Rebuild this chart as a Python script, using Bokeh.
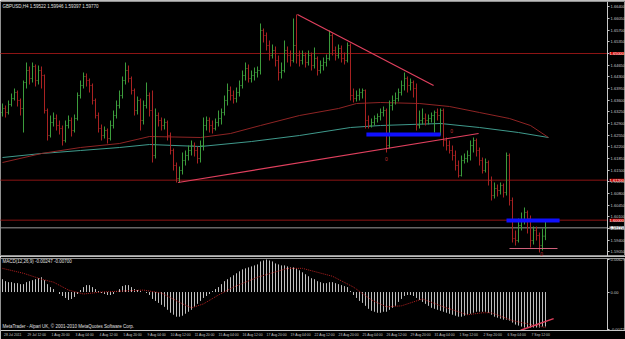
from bokeh.plotting import figure
from bokeh.models import Range1d, LinearAxis, FixedTicker, PrintfTickFormatter, Label, ColumnDataSource
from bokeh.layouts import column
from bokeh.embed import file_html
from bokeh.resources import INLINE
from bokeh.core.properties import value

# ---------------- data (GBPUSD H4) ----------------
symbol_title = "GBPUSD,H4  1.59522 1.59946 1.59397 1.59770"
macd_title = "MACD(12,26,9) -0.00247 -0.00700"
footer = "MetaTrader - Alpari UK, \u00a9 2001-2010 MetaQuotes Software Corp."

first_open_pts = 16323
close_pts = [16335, 16323, 16347, 16365, 16383, 16359, 16335, 16413, 16449, 16425,
             16461, 16419, 16449, 16434, 16329, 16254, 16293, 16305, 16284, 16275,
             16239, 16284, 16299, 16269, 16305, 16374, 16404, 16431, 16419, 16404,
             16359, 16314, 16275, 16254, 16269, 16245, 16284, 16314, 16344, 16374,
             16419, 16449, 16425, 16389, 16329, 16359, 16299, 16344, 16374, 16329,
             16194, 16314, 16299, 16284, 16293, 16254, 16209, 16164, 16125, 16149,
             16179, 16194, 16209, 16224, 16209, 16185, 16224, 16284, 16299, 16284,
             16275, 16293, 16305, 16323, 16359, 16389, 16374, 16365, 16383, 16404,
             16434, 16455, 16425, 16434, 16443, 16449, 16569, 16554, 16524, 16494,
             16509, 16479, 16443, 16449, 16509, 16494, 16479, 16524, 16494, 16479,
             16494, 16473, 16494, 16464, 16485, 16449, 16464, 16473, 16485, 16554,
             16509, 16494, 16515, 16485, 16479, 16524, 16374, 16365, 16374, 16383,
             16389, 16299, 16284, 16293, 16305, 16311, 16323, 16329, 16224, 16344,
             16359, 16365, 16383, 16404, 16425, 16404, 16413, 16395, 16284, 16299,
             16305, 16299, 16305, 16314, 16323, 16314, 16329, 16239, 16224, 16209,
             16194, 16164, 16134, 16179, 16185, 16194, 16224, 16239, 16209, 16179,
             16149, 16173, 16119, 16074, 16095, 16089, 16104, 16083, 16194, 16059,
             15945, 15939, 15984, 15999, 16023, 16005, 15939, 15969, 15954, 15924,
             15952, 15977]
high_pts = [16350, 16344, 16359, 16380, 16395, 16389, 16365, 16419, 16473, 16461,
            16473, 16467, 16464, 16461, 16437, 16335, 16314, 16323, 16317, 16299,
            16284, 16299, 16314, 16308, 16317, 16383, 16419, 16443, 16440, 16425,
            16410, 16365, 16323, 16287, 16281, 16275, 16299, 16329, 16359, 16389,
            16431, 16473, 16464, 16431, 16395, 16371, 16365, 16359, 16413, 16383,
            16389, 16335, 16323, 16308, 16305, 16299, 16263, 16215, 16173, 16161,
            16203, 16209, 16224, 16239, 16233, 16221, 16239, 16308, 16311, 16308,
            16299, 16305, 16329, 16335, 16374, 16410, 16401, 16389, 16398, 16419,
            16449, 16473, 16467, 16449, 16458, 16461, 16590, 16575, 16563, 16539,
            16527, 16521, 16494, 16473, 16539, 16521, 16509, 16605, 16617, 16509,
            16509, 16503, 16509, 16503, 16518, 16491, 16479, 16488, 16497, 16569,
            16560, 16521, 16527, 16524, 16503, 16533, 16530, 16395, 16389, 16395,
            16395, 16392, 16314, 16305, 16314, 16320, 16335, 16341, 16335, 16359,
            16374, 16383, 16395, 16419, 16443, 16431, 16425, 16419, 16410, 16329,
            16335, 16320, 16317, 16323, 16329, 16335, 16335, 16335, 16248, 16239,
            16224, 16209, 16179, 16194, 16200, 16209, 16239, 16248, 16245, 16218,
            16188, 16185, 16179, 16131, 16113, 16107, 16113, 16110, 16203, 16200,
            16068, 15969, 16005, 16023, 16038, 16029, 16014, 15981, 15981, 15963,
            15975, 15995]
low_pts = [16311, 16308, 16317, 16341, 16359, 16341, 16314, 16263, 16395, 16407,
           16413, 16401, 16407, 16395, 16320, 16239, 16248, 16281, 16269, 16257,
           16224, 16233, 16275, 16251, 16263, 16299, 16365, 16395, 16401, 16383,
           16347, 16305, 16263, 16239, 16245, 16230, 16239, 16275, 16305, 16335,
           16365, 16407, 16413, 16377, 16314, 16317, 16269, 16287, 16335, 16311,
           16173, 16185, 16281, 16269, 16272, 16239, 16197, 16149, 16113, 16113,
           16137, 16164, 16179, 16194, 16191, 16170, 16173, 16209, 16269, 16263,
           16260, 16269, 16281, 16287, 16314, 16344, 16359, 16350, 16353, 16371,
           16395, 16419, 16413, 16413, 16419, 16428, 16437, 16533, 16509, 16479,
           16485, 16461, 16419, 16425, 16443, 16473, 16461, 16473, 16470, 16461,
           16467, 16458, 16464, 16449, 16455, 16434, 16440, 16449, 16461, 16479,
           16494, 16479, 16485, 16473, 16467, 16473, 16359, 16353, 16356, 16359,
           16365, 16275, 16275, 16278, 16284, 16293, 16299, 16311, 16203, 16215,
           16329, 16347, 16356, 16374, 16389, 16383, 16389, 16368, 16269, 16275,
           16287, 16284, 16287, 16293, 16263, 16299, 16254, 16221, 16209, 16200,
           16179, 16149, 16128, 16131, 16170, 16173, 16179, 16203, 16191, 16164,
           16140, 16143, 16104, 16059, 16065, 16071, 16077, 16068, 16074, 16044,
           15933, 15924, 15933, 15969, 15987, 15960, 15918, 15927, 15939, 15903,
           15909, 15940]

# moving averages (read at sample bars)
ma_red_idx = [0, 13, 26, 39, 49, 66, 76, 86, 99, 112, 118, 126, 139, 149, 159, 169, 176, 182]
ma_red_pts = [16173, 16200, 16218, 16230, 16251, 16248, 16260, 16284, 16314, 16335,
              16350, 16353, 16350, 16341, 16323, 16305, 16284, 16248]
ma_teal_idx = [0, 13, 26, 39, 49, 66, 83, 99, 116, 126, 146, 159, 172, 182]
ma_teal_pts = [16188, 16200, 16209, 16218, 16227, 16221, 16236, 16254, 16278, 16284,
               16290, 16278, 16263, 16248]

# MACD histogram and signal (units of 1e-5)
macd_hist = [247, 209, 190, 190, 171, 171, 152, 152, 190, 209,
             228, 247, 266, 285, 228, 152, 95, 57, 0, -38,
             -76, -114, -152, -133, -95, -38, 38, 95, 133, 133,
             95, 57, 19, -19, -38, -57, -57, -38, 19, 57,
             114, 133, 133, 95, 57, 38, 19, 0, -19, -57,
             -133, -171, -209, -247, -285, -342, -399, -437, -475, -475,
             -456, -418, -380, -342, -285, -228, -171, -114, -76, -38,
             19, 57, 95, 152, 209, 247, 285, 323, 361, 399,
             437, 456, 475, 494, 513, 532, 589, 608, 627, 608,
             589, 551, 532, 513, 513, 494, 475, 475, 456, 418,
             380, 342, 304, 266, 247, 209, 190, 171, 171, 190,
             190, 171, 152, 133, 114, 95, 19, -57, -114, -171,
             -209, -266, -323, -361, -380, -399, -399, -380, -380, -342,
             -304, -266, -190, -133, -76, -57, -57, -76, -114, -152,
             -190, -228, -266, -304, -323, -342, -361, -380, -399, -418,
             -437, -456, -475, -475, -456, -437, -418, -399, -380, -380,
             -380, -380, -399, -437, -475, -494, -513, -532, -532, -551,
             -589, -627, -646, -665, -684, -684, -684, -684, -684, -684,
             -665, -665]
signal_idx = [0, 7, 13, 17, 22, 27, 33, 40, 47, 53, 60, 63, 67, 72, 77, 85, 95, 100,
              110, 117, 123, 128, 133, 140, 147, 155, 160, 163, 170, 181]
signal_pts = [456, 361, 247, 190, 38, -38, 0, 19, 38, -19, -228, -304, -228, -57, 95,
              285, 456, 456, 304, 95, -152, -285, -266, -133, -285, -437, -399, -399,
              -551, -684]

# axis ticks
price_ticks = [1.5905, 1.5940, 1.5975, 1.6010, 1.6045, 1.6080, 1.6115, 1.6150, 1.6185,
               1.6220, 1.6255, 1.6290, 1.6325, 1.6360, 1.6395, 1.6430, 1.6465, 1.6500,
               1.6535, 1.6570, 1.6605, 1.6640]
macd_ticks = [0.00629, 0.0, -0.00722]
time_idx = [0, 8, 16, 24, 32, 40, 48, 56, 64, 72, 80, 88, 96, 104, 112, 120, 128, 136,
            144, 152, 160, 168, 176]
time_labels = ["28 Jul 2011", "29 Jul 12:00", "1 Aug 20:00", "3 Aug 04:00", "4 Aug 12:00",
               "5 Aug 20:00", "9 Aug 04:00", "10 Aug 12:00", "11 Aug 20:00", "15 Aug 04:00",
               "16 Aug 12:00", "17 Aug 20:00", "19 Aug 04:00", "22 Aug 12:00", "23 Aug 20:00",
               "25 Aug 04:00", "26 Aug 12:00", "29 Aug 20:00", "31 Aug 04:00", "1 Sep 12:00",
               "2 Sep 20:00", "6 Sep 04:00", "7 Sep 12:00"]

# drawn objects
hlines = [1.6500, 1.6120, 1.6000]
bid_price = 1.5977
trend_x0 = [98.3, 58.5]
trend_y0 = [1.6617, 1.6113]
trend_x1 = [143.7, 158.7]
trend_y1 = [1.6404, 1.6260]
zone_x0 = [121.3, 168.0]
zone_x1 = [146.0, 185.7]
zone_y = [1.6257, 1.5999]
low_mark = (169.0, 185.0, 1.5915)
zero_marks_x = [128.0, 149.7, 179.7]
zero_marks_y = [1.6185, 1.6269, 1.5900]
macd_tl = (172.7, -0.00735, 183.7, -0.00513)

# ---------------- styling ----------------
UP = "#3c9c3c"
DOWN = "#a82222"
AXIS_C = "#c8c8c8"
FONT = "Liberation Sans"
AX_X = 201.7        # index where the price scale sits
LABEL_SHIFT = 3.4   # time labels start at their bar (MT4 style)

n = len(close_pts)
idx = list(range(n))
close = [v / 10000 for v in close_pts]
high = [v / 10000 for v in high_pts]
low = [v / 10000 for v in low_pts]
opens = [first_open_pts / 10000] + close[:-1]
colors = [UP if c >= o else DOWN for o, c in zip(opens, close)]
src = ColumnDataSource(dict(x=idx, xl=[i - 0.34 for i in idx], xr=[i + 0.34 for i in idx],
                            o=opens, h=high, l=low, c=close, color=colors))

xr = Range1d(-0.667, 207.667)

p1 = figure(width=625, height=256, x_range=xr, y_range=Range1d(1.5891, 1.6656),
            output_backend="svg", toolbar_location=None, x_axis_location=None,
            y_axis_location=None, min_border_left=0, min_border_right=0,
            min_border_top=1, min_border_bottom=0, background_fill_color="black",
            border_fill_color="black", outline_line_color="#909090")
p1.xgrid.visible = False
p1.ygrid.visible = False

ax1 = LinearAxis(fixed_location=AX_X, ticker=FixedTicker(ticks=price_ticks),
                 formatter=PrintfTickFormatter(format="%.5f"),
                 major_label_text_font_size="4px", major_label_text_color=AXIS_C,
                 major_label_text_font=FONT, axis_line_color=AXIS_C,
                 major_tick_line_color=AXIS_C, major_tick_in=0, major_tick_out=2,
                 minor_tick_out=0, minor_tick_in=0, major_label_standoff=1)
p1.add_layout(ax1, "right")

# horizontal levels
p1.segment(x0=[-1] * len(hlines), x1=[AX_X] * len(hlines), y0=hlines, y1=hlines,
           line_color="#8c1414", line_width=1)
p1.segment(x0=[-1], x1=[AX_X], y0=[bid_price], y1=[bid_price], line_color="#9a9a9a", line_width=1)

# moving averages
p1.line(ma_teal_idx, [v / 10000 for v in ma_teal_pts], line_color="#3f9a8c", line_width=1)
p1.line(ma_red_idx, [v / 10000 for v in ma_red_pts], line_color="#8e2424", line_width=1)

# bars
p1.segment(x0="x", y0="l", x1="x", y1="h", line_color="color", line_width=1, source=src)
p1.segment(x0="xl", y0="o", x1="x", y1="o", line_color="color", line_width=1, source=src)
p1.segment(x0="x", y0="c", x1="xr", y1="c", line_color="color", line_width=1, source=src)

# drawn objects
p1.segment(x0=trend_x0, y0=trend_y0, x1=trend_x1, y1=trend_y1, line_color="#e0405e", line_width=1.2)
p1.segment(x0=zone_x0, y0=zone_y, x1=zone_x1, y1=zone_y, line_color="#1010ff", line_width=4)
p1.segment(x0=[low_mark[0]], y0=[low_mark[2]], x1=[low_mark[1]], y1=[low_mark[2]],
           line_color="#d0607a", line_width=1)
p1.text(x=zero_marks_x, y=zero_marks_y, text=["0"] * 3, text_color="#c03030",
        text_font=value(FONT), text_font_size="5px", text_align="center", text_baseline="middle")

for lv in hlines:
    p1.add_layout(Label(x=AX_X, y=lv, text="%.5f" % lv, text_font_size="4px", text_font=FONT,
                        text_color="white", background_fill_color="#c80000",
                        text_baseline="middle", x_offset=2))
p1.add_layout(Label(x=AX_X, y=bid_price, text="%.5f" % bid_price, text_font_size="4px",
                    text_font=FONT, text_color="black", background_fill_color="white",
                    text_baseline="middle", x_offset=2))
p1.add_layout(Label(x=0.0, y=1.6641, text=symbol_title, text_font_size="4.5px", text_font=FONT,
                    text_color="#e0e0e0", text_baseline="middle"))

# ---------------- MACD panel ----------------
p2 = figure(width=625, height=83, x_range=xr, y_range=Range1d(-0.00741, 0.00646),
            output_backend="svg", toolbar_location=None, x_axis_location=None,
            y_axis_location=None, min_border_left=0, min_border_right=0,
            min_border_top=2, min_border_bottom=0, background_fill_color="black",
            border_fill_color="black", outline_line_color="#909090")
p2.xgrid.visible = False
p2.ygrid.visible = False

ax2 = LinearAxis(fixed_location=AX_X, ticker=FixedTicker(ticks=macd_ticks),
                 formatter=PrintfTickFormatter(format="%.5f"),
                 major_label_overrides={0.0: "0.00"},
                 major_label_text_font_size="4px", major_label_text_color=AXIS_C,
                 major_label_text_font=FONT, axis_line_color=AXIS_C,
                 major_tick_line_color=AXIS_C, major_tick_in=0, major_tick_out=2,
                 minor_tick_out=0, minor_tick_in=0, major_label_standoff=1)
p2.add_layout(ax2, "right")

tick_pos = [i + LABEL_SHIFT for i in time_idx]
tax = LinearAxis(ticker=FixedTicker(ticks=tick_pos),
                 major_label_overrides={p: t for p, t in zip(tick_pos, time_labels)},
                 major_label_text_font_size="3.4px", major_label_text_color=AXIS_C,
                 major_label_text_font=FONT, axis_line_color=AXIS_C,
                 major_tick_line_color=None, major_tick_in=0, major_tick_out=2,
                 minor_tick_out=0, minor_tick_in=0, major_label_standoff=0)
p2.add_layout(tax, "below")

hist = [v / 100000 for v in macd_hist]
p2.segment(x0=idx, x1=idx, y0=[0.0] * n, y1=hist, line_color="#c0c0c0", line_width=1)
p2.line(signal_idx, [v / 100000 for v in signal_pts], line_color="#b02020", line_width=1,
        line_dash="1 1")
p2.segment(x0=[macd_tl[0]], y0=[macd_tl[1]], x1=[macd_tl[2]], y1=[macd_tl[3]],
           line_color="#e0405e", line_width=1.5)
p2.add_layout(Label(x=0.0, y=0.0059, text=macd_title, text_font_size="4.5px", text_font=FONT,
                    text_color="#e0e0e0", text_baseline="middle"))
p2.add_layout(Label(x=0.0, y=-0.0066, text=footer, text_font_size="4.5px", text_font=FONT,
                    text_color="#e0e0e0", text_baseline="middle"))

layout = column(p1, p2, spacing=0)
open("out.html", "w").write(file_html(layout, INLINE))
